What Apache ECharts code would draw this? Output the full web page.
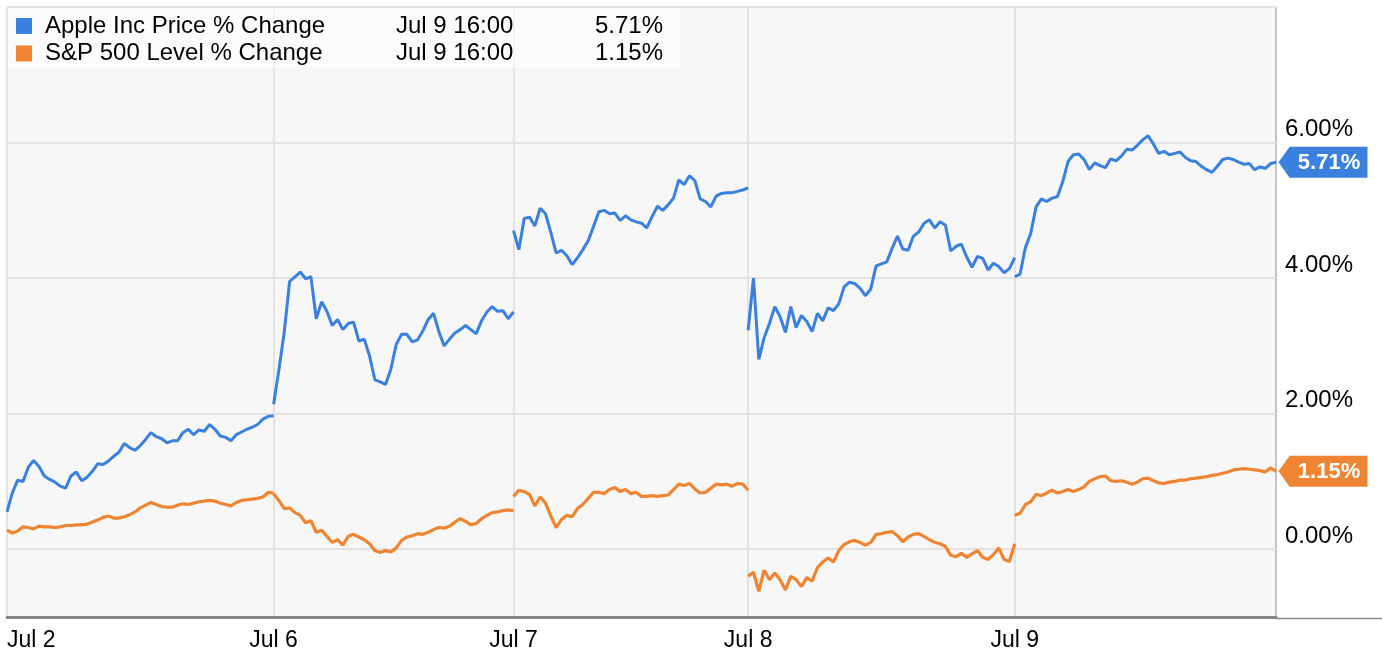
<!DOCTYPE html>
<html><head><meta charset="utf-8">
<script src="https://cdn.jsdelivr.net/npm/echarts@6/dist/echarts.min.js"></script>
<style>html,body{margin:0;padding:0;background:#fff}#c{width:1382px;height:660px}</style>
</head><body><div id="c"></div>
<script>
// ---- data ----
const dayLabels = ['Jul 2', 'Jul 6', 'Jul 7', 'Jul 8', 'Jul 9'];
const seriesNames = ['Apple Inc Price % Change', 'S&P 500 Level % Change'];
const lastTime = 'Jul 9 16:00';
const lastValues = [5.71, 1.15];
const yTicks = [0, 2, 4, 6];

const appleJul2 = [0.55,0.83,1.02,1.00,1.21,1.31,1.22,1.08,1.03,0.99,0.93,0.90,1.08,1.14,1.01,1.06,1.15,1.26,1.25,1.30,1.37,1.43,1.56,1.50,1.46,1.53,1.62,1.72,1.66,1.63,1.57,1.60,1.60,1.72,1.77,1.69,1.76,1.74,1.84,1.77,1.67,1.65,1.60,1.69,1.73,1.77,1.80,1.84,1.92,1.96,1.97];
const appleJul6 = [2.14,2.65,3.20,3.95,4.02,4.09,3.99,4.02,3.40,3.65,3.51,3.30,3.39,3.24,3.33,3.35,3.07,3.10,2.85,2.50,2.47,2.43,2.66,3.02,3.17,3.17,3.06,3.09,3.22,3.39,3.48,3.21,3.00,3.10,3.19,3.24,3.30,3.24,3.18,3.37,3.50,3.58,3.51,3.52,3.40,3.50];
const appleJul7 = [4.70,4.42,4.88,4.90,4.77,5.03,4.95,4.67,4.37,4.41,4.33,4.20,4.30,4.42,4.55,4.76,4.98,5.00,4.95,4.96,4.85,4.92,4.86,4.83,4.81,4.74,4.91,5.06,5.00,5.08,5.18,5.45,5.38,5.51,5.44,5.17,5.13,5.05,5.21,5.25,5.26,5.26,5.28,5.30,5.33];
const appleJul8 = [3.23,4.00,2.80,3.12,3.33,3.58,3.43,3.20,3.58,3.27,3.45,3.36,3.21,3.48,3.37,3.56,3.52,3.62,3.87,3.94,3.92,3.85,3.74,3.84,4.18,4.21,4.24,4.44,4.62,4.43,4.41,4.62,4.68,4.81,4.86,4.74,4.83,4.78,4.40,4.47,4.50,4.31,4.16,4.32,4.29,4.12,4.22,4.17,4.08,4.14,4.30];
const appleJul9 = [4.02,4.06,4.45,4.66,5.05,5.17,5.13,5.18,5.20,5.42,5.72,5.82,5.83,5.75,5.60,5.70,5.66,5.63,5.76,5.73,5.80,5.90,5.89,5.96,6.04,6.10,5.98,5.84,5.87,5.82,5.84,5.86,5.78,5.73,5.72,5.65,5.60,5.56,5.65,5.75,5.77,5.75,5.71,5.68,5.69,5.60,5.64,5.62,5.69,5.71];

const spxJul2 = [0.28,0.24,0.27,0.33,0.32,0.30,0.34,0.33,0.33,0.32,0.33,0.35,0.35,0.36,0.36,0.37,0.40,0.43,0.47,0.49,0.46,0.46,0.48,0.51,0.55,0.61,0.65,0.69,0.66,0.63,0.62,0.62,0.65,0.67,0.66,0.68,0.70,0.71,0.72,0.71,0.68,0.66,0.64,0.69,0.72,0.73,0.74,0.75,0.77,0.84,0.83];
const spxJul6 = [0.82,0.72,0.60,0.61,0.54,0.50,0.39,0.42,0.25,0.28,0.19,0.10,0.14,0.06,0.19,0.22,0.18,0.14,0.08,-0.02,-0.05,-0.02,-0.04,0.02,0.13,0.18,0.20,0.23,0.22,0.25,0.29,0.32,0.31,0.34,0.40,0.45,0.41,0.36,0.38,0.45,0.50,0.54,0.55,0.57,0.58,0.57];
const spxJul7 = [0.78,0.87,0.85,0.81,0.64,0.77,0.68,0.49,0.32,0.44,0.50,0.48,0.60,0.66,0.75,0.84,0.84,0.82,0.88,0.91,0.85,0.88,0.82,0.84,0.78,0.78,0.79,0.78,0.79,0.80,0.88,0.96,0.94,0.97,0.89,0.83,0.84,0.90,0.96,0.95,0.96,0.93,0.97,0.96,0.87];
const spxJul8 = [-0.40,-0.34,-0.62,-0.31,-0.45,-0.35,-0.45,-0.60,-0.40,-0.45,-0.55,-0.42,-0.47,-0.27,-0.19,-0.13,-0.19,-0.02,0.07,0.11,0.13,0.10,0.06,0.10,0.22,0.23,0.25,0.26,0.20,0.11,0.18,0.22,0.23,0.19,0.14,0.10,0.08,0.04,-0.09,-0.11,-0.06,-0.12,-0.07,-0.02,-0.12,-0.15,-0.08,0.02,-0.15,-0.18,0.08];
const spxJul9 = [0.50,0.53,0.66,0.70,0.81,0.79,0.83,0.87,0.83,0.85,0.88,0.85,0.88,0.92,1.00,1.04,1.07,1.08,1.01,1.00,1.01,0.99,0.96,0.99,1.04,1.05,1.01,0.98,0.97,0.99,1.00,1.02,1.02,1.04,1.05,1.06,1.07,1.09,1.10,1.12,1.14,1.17,1.18,1.19,1.18,1.17,1.16,1.14,1.20,1.15];

// ---- build ----
const appleDays = [appleJul2, appleJul6, appleJul7, appleJul8, appleJul9];
const spxDays = [spxJul2, spxJul6, spxJul7, spxJul8, spxJul9];
const dayStarts = [];
let acc = 0;
appleDays.forEach(d => { dayStarts.push(acc); acc += d.length - 1; });
const lastIdx = acc;
const cats = Array.from({length: lastIdx + 1}, (_, i) => String(i));
function build(days) {
  const out = [];
  days.forEach((d, k) => {
    if (k > 0) out.push([dayStarts[k], '-']);
    d.forEach((v, i) => out.push([dayStarts[k] + i, v]));
  });
  return out;
}
const BLUE = '#3a80df', ORANGE = '#ef8532';
const FONT = '"Liberation Sans", Arial, Helvetica, sans-serif';
const colors = [BLUE, ORANGE];

function tag(color, value) {
  return {
    silent: true,
    symbol: 'path://M0,15L11,0L88,0L88,30L11,30Z',
    symbolSize: [89, 31],
    symbolKeepAspect: false,
    symbolOffset: [47, 0],
    itemStyle: { color: color },
    label: { show: true, position: 'inside', offset: [6, 1], formatter: value.toFixed(2) + '%', color: '#fff', fontSize: 22, fontWeight: 'bold', fontFamily: FONT },
    data: [{ coord: [cats[lastIdx], value] }]
  };
}

const legendGraphics = [{ type: 'rect', z: 100, shape: { x: 8, y: 8, width: 672, height: 60 }, style: { fill: 'rgba(255,255,255,0.6)' }, silent: true }];
seriesNames.forEach((n, i) => {
  const cy = 26 + i * 27.5;
  legendGraphics.push({ type: 'rect', z: 101, shape: { x: 16, y: cy - 8, width: 16, height: 16 }, style: { fill: colors[i] } });
  legendGraphics.push({ type: 'text', z: 101, x: 45, y: cy, style: { text: n, font: '24px ' + FONT, fill: '#000', textVerticalAlign: 'middle' } });
  legendGraphics.push({ type: 'text', z: 101, x: 396, y: cy, style: { text: lastTime, font: '24px ' + FONT, fill: '#000', textVerticalAlign: 'middle' } });
  legendGraphics.push({ type: 'text', z: 101, x: 663, y: cy, style: { text: lastValues[i].toFixed(2) + '%', font: '24px ' + FONT, fill: '#000', textAlign: 'right', textVerticalAlign: 'middle' } });
});
legendGraphics.push({ type: 'line', z: 100, shape: { x1: 1276, y1: 618.5, x2: 1382, y2: 618.5 }, style: { stroke: '#8a8a8a', lineWidth: 1.5 }, silent: true });

const chart = echarts.init(document.getElementById('c'), null, { renderer: 'canvas' });
chart.setOption({
  animation: false,
  backgroundColor: '#fff',
  grid: { left: 7, right: 106, top: 7, bottom: 43, show: true, backgroundColor: '#f7f7f7', borderColor: '#8c8c8c', borderWidth: 1 },
  xAxis: {
    type: 'category', data: cats, boundaryGap: false,
    axisLine: { show: true, onZero: false, lineStyle: { color: '#858585', width: 3 } },
    axisTick: { show: false },
    axisLabel: {
      interval: (i) => dayStarts.includes(i),
      formatter: (v, i) => { const k = dayStarts.indexOf(Number(v)); return k >= 0 ? dayLabels[k] : ''; },
      color: '#000', fontSize: 23, fontFamily: FONT, margin: 12, alignMinLabel: 'left'
    },
    splitLine: { show: true, interval: (i) => dayStarts.includes(i), lineStyle: { color: '#e2e2e2', width: 2 } }
  },
  yAxis: {
    type: 'value', position: 'right', min: -1, max: 8, interval: 1,
    axisLine: { show: false }, axisTick: { show: false },
    axisLabel: {
      formatter: (v) => yTicks.includes(v) ? v.toFixed(2) + '%' : '',
      color: '#000', fontSize: 24, fontFamily: FONT, margin: 9, verticalAlign: 'bottom', padding: [0, 0, 1, 0]
    },
    splitLine: { show: true, lineStyle: { color: ['rgba(0,0,0,0)', '#e2e2e2'], width: 2 } }
  },
  graphic: legendGraphics,
  series: [
    { name: seriesNames[1], type: 'line', data: build(spxDays), showSymbol: false, connectNulls: false,
      lineStyle: { color: ORANGE, width: 3.2 }, itemStyle: { color: ORANGE }, z: 3, markPoint: tag(ORANGE, lastValues[1]) },
    { name: seriesNames[0], type: 'line', data: build(appleDays), showSymbol: false, connectNulls: false,
      lineStyle: { color: BLUE, width: 3 }, itemStyle: { color: BLUE }, z: 4, markPoint: tag(BLUE, lastValues[0]) }
  ]
});
</script>
</body></html>
